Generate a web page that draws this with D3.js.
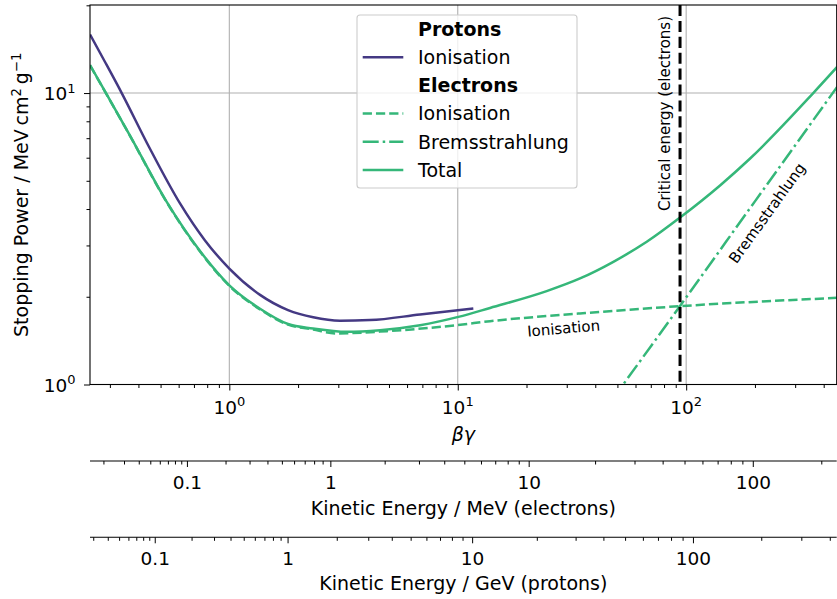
<!DOCTYPE html>
<html>
<head>
<meta charset="utf-8">
<script src="https://cdn.jsdelivr.net/npm/d3@7"></script>
<style>
  body { margin: 0; background: #fff; }
  svg { display: block; font-family: "DejaVu Sans", sans-serif; }
</style>
</head>
<body>
<div id="chart"></div>
<script>
// values: x is beta*gamma, y is stopping power (MeV cm^2 / g)
var protonIonBG  = [0.2455, 0.2857, 0.338, 0.4452, 0.6083, 0.7825, 1.0, 1.363, 1.807, 2.33, 3.05, 4.13, 6.84, 11.7];
var protonIonVal = [15.88, 12.78, 10.0, 6.53, 4.18, 3.12, 2.50, 2.03, 1.80, 1.70, 1.655, 1.663, 1.739, 1.824];

var elecIonBG  = [0.2455, 0.2885, 0.3674, 0.532, 0.7441, 1.0, 1.363, 1.807, 2.325, 2.953, 4.89, 9.90, 13.85, 34.3, 94, 458];
var elecIonVal = [12.45, 9.98, 7.13, 4.22, 2.86, 2.18, 1.81, 1.605, 1.545, 1.497, 1.524, 1.598, 1.649, 1.753, 1.857, 1.983];

var elecBremBG  = [10, 30, 53, 94, 200, 458];
var elecBremVal = [0.162, 0.537, 1.0, 1.86, 4.25, 10.5];

var elecTotBG  = [0.2455, 0.2885, 0.3674, 0.532, 0.7441, 1.0, 1.363, 1.807, 2.325, 3.27, 4.57, 6.84, 10.06, 13.85, 24.5, 34.3, 48, 67.2, 94, 140.7, 190, 360, 458];
var elecTotVal = [12.48, 10.0, 7.15, 4.23, 2.87, 2.19, 1.82, 1.613, 1.557, 1.516, 1.536, 1.598, 1.706, 1.831, 2.091, 2.311, 2.636, 3.088, 3.74, 4.82, 5.95, 10.0, 12.29];

var criticalBG = 94;   // critical energy for electrons, in beta*gamma

var xMajor = [1, 10, 100];
var xMajorLabels = ["0", "1", "2"];
var yMajor = [1, 10];
var yMajorLabels = ["0", "1"];
var elecTicks = [0.1, 1, 10, 100];        // MeV
var elecTickLabels = ["0.1", "1", "10", "100"];
var protTicks = [0.1, 1, 10, 100];        // GeV
var protTickLabels = ["0.1", "1", "10", "100"];

var legendRows = [
  {label: "Protons", header: true},
  {label: "Ionisation", color: "#443983", dash: null},
  {label: "Electrons", header: true},
  {label: "Ionisation", color: "#35b779", dash: "9.25,4"},
  {label: "Bremsstrahlung", color: "#35b779", dash: "16,4,2.5,4"},
  {label: "Total", color: "#35b779", dash: null}
];

var massE = 0.511;   // MeV
var massP = 0.938;   // GeV

var width = 837, height = 599;
var margin = {left: 90, right: 836.7, top: 5, bottom: 384.5};
var purple = "#443983", green = "#35b779";
var fs = 19, tickFs = 18.5;

var svg = d3.select("#chart").append("svg")
  .attr("width", width).attr("height", height);

var x = d3.scaleLog().domain([0.2455, 456]).range([margin.left, margin.right]);
var y = d3.scaleLog().domain([1, 20.05]).range([margin.bottom, margin.top]);

svg.append("clipPath").attr("id", "clip")
  .append("rect")
  .attr("x", margin.left).attr("y", margin.top)
  .attr("width", margin.right - margin.left).attr("height", margin.bottom - margin.top);

// grid
svg.append("g").selectAll("line").data(xMajor).enter().append("line")
  .attr("x1", function(d){ return x(d); }).attr("x2", function(d){ return x(d); })
  .attr("y1", margin.top).attr("y2", margin.bottom)
  .attr("stroke", "#b0b0b0").attr("stroke-width", 1.1);
svg.append("g").selectAll("line").data(yMajor).enter().append("line")
  .attr("y1", function(d){ return y(d); }).attr("y2", function(d){ return y(d); })
  .attr("x1", margin.left).attr("x2", margin.right)
  .attr("stroke", "#b0b0b0").attr("stroke-width", 1.1);

// minor tick values
function minorTicks(lo, hi) {
  var out = [];
  for (var p = -3; p <= 3; p++) {
    for (var k = 2; k <= 9; k++) {
      var v = k * Math.pow(10, p);
      if (v >= lo && v <= hi) out.push(v);
    }
  }
  return out;
}

// main x axis
svg.append("g")
  .attr("transform", "translate(0," + margin.bottom + ")")
  .call(d3.axisBottom(x).tickValues(minorTicks(0.2455, 456)).tickSize(3.5).tickFormat(""))
  .call(function(g){ g.select(".domain").remove(); });
svg.append("g")
  .attr("transform", "translate(0," + margin.bottom + ")")
  .call(d3.axisBottom(x).tickValues(xMajor).tickSize(6).tickFormat(""))
  .call(function(g){ g.select(".domain").remove(); });

// main y axis
svg.append("g")
  .attr("transform", "translate(" + margin.left + ",0)")
  .call(d3.axisLeft(y).tickValues(minorTicks(1, 20.05)).tickSize(3.5).tickFormat(""))
  .call(function(g){ g.select(".domain").remove(); });
svg.append("g")
  .attr("transform", "translate(" + margin.left + ",0)")
  .call(d3.axisLeft(y).tickValues(yMajor).tickSize(6).tickFormat(""))
  .call(function(g){ g.select(".domain").remove(); });

svg.selectAll(".tick line").attr("stroke", "#000").attr("stroke-width", 1);

// power-of-ten labels
function powLabel(sel, exp) {
  sel.append("tspan").text("10");
  sel.append("tspan").attr("dy", -7.5).attr("font-size", 13).text(exp);
}
xMajor.forEach(function(v, i) {
  var t = svg.append("text").attr("x", x(v)).attr("y", 413.5)
    .attr("text-anchor", "middle").attr("font-size", tickFs);
  powLabel(t, xMajorLabels[i]);
});
yMajor.forEach(function(v, i) {
  var t = svg.append("text").attr("x", 75.5).attr("y", y(v) + 7)
    .attr("text-anchor", "end").attr("font-size", tickFs);
  powLabel(t, yMajorLabels[i]);
});

svg.append("text").attr("x", (margin.left + margin.right) / 2).attr("y", 441)
  .attr("text-anchor", "middle").attr("font-size", fs).attr("font-style", "italic")
  .text("\u03b2\u03b3");

// y label
var yl = svg.append("text")
  .attr("transform", "translate(28," + (margin.top + margin.bottom) / 2 + ") rotate(-90)")
  .attr("text-anchor", "middle").attr("font-size", fs);
yl.append("tspan").text("Stopping Power / MeV\u2009cm");
yl.append("tspan").attr("dy", -7.5).attr("font-size", 13.3).text("2");
yl.append("tspan").attr("dy", 7.5).text("\u2009g");
yl.append("tspan").attr("dy", -7.5).attr("font-size", 13.3).text("\u22121");

// curves
var lineGen = d3.line()
  .x(function(d){ return x(d[0]); })
  .y(function(d){ return y(d[1]); })
  .curve(d3.curveMonotoneX);
function pairs(a, b) { return a.map(function(v, i){ return [v, b[i]]; }); }

var curves = svg.append("g").attr("clip-path", "url(#clip)");
curves.append("path").datum(pairs(elecIonBG, elecIonVal))
  .attr("fill", "none").attr("stroke", green).attr("stroke-width", 2.5)
  .attr("stroke-dasharray", "9.25,4").attr("d", lineGen);
curves.append("path").datum(pairs(elecBremBG, elecBremVal))
  .attr("fill", "none").attr("stroke", green).attr("stroke-width", 2.5)
  .attr("stroke-dasharray", "16,4,2.5,4").attr("d", lineGen);
curves.append("path").datum(pairs(elecTotBG, elecTotVal))
  .attr("fill", "none").attr("stroke", green).attr("stroke-width", 2.5).attr("d", lineGen);
curves.append("path").datum(pairs(protonIonBG, protonIonVal))
  .attr("fill", "none").attr("stroke", purple).attr("stroke-width", 2.5).attr("d", lineGen);

// critical energy
svg.append("line")
  .attr("x1", x(criticalBG)).attr("x2", x(criticalBG))
  .attr("y1", margin.top).attr("y2", margin.bottom)
  .attr("stroke", "#000").attr("stroke-width", 3).attr("stroke-dasharray", "11.1,4.8");
svg.append("text")
  .attr("transform", "translate(" + (x(criticalBG) - 10) + ",113.5) rotate(-90)")
  .attr("text-anchor", "middle").attr("font-size", 15)
  .text("Critical energy (electrons)");

// inline curve labels
svg.append("text")
  .attr("transform", "translate(564,333.5) rotate(-5)")
  .attr("text-anchor", "middle").attr("font-size", 15).text("Ionisation");
svg.append("text")
  .attr("transform", "translate(767,213) rotate(-54.3)")
  .attr("text-anchor", "middle").attr("dy", "0.35em").attr("font-size", 15).text("Bremsstrahlung");

// frame
svg.append("rect")
  .attr("x", margin.left).attr("y", margin.top)
  .attr("width", margin.right - margin.left).attr("height", margin.bottom - margin.top)
  .attr("fill", "none").attr("stroke", "#000").attr("stroke-width", 1.1);

// legend
var leg = svg.append("g");
leg.append("rect").attr("x", 357).attr("y", 15).attr("width", 220).attr("height", 173)
  .attr("rx", 3).attr("fill", "#fff").attr("fill-opacity", 0.8)
  .attr("stroke", "#cccccc").attr("stroke-width", 1.1);
legendRows.forEach(function(r, i) {
  var cy = 29 + i * 28.2;
  if (!r.header) {
    leg.append("line").attr("x1", 362.7).attr("x2", 403.3).attr("y1", cy).attr("y2", cy)
      .attr("stroke", r.color).attr("stroke-width", 2.5)
      .attr("stroke-dasharray", r.dash);
  }
  leg.append("text").attr("x", 418).attr("y", cy).attr("dy", "0.36em")
    .attr("font-size", fs).attr("font-weight", r.header ? "bold" : "normal")
    .text(r.label);
});

// secondary kinetic energy axes
function secondaryAxis(yPos, mass, majors, labels, title, labelY, titleY) {
  var toX = function(T) {
    var g = T / mass + 1;
    return x(Math.sqrt(g * g - 1));
  };
  var bgLo = 0.2455, bgHi = 456;
  var tLo = mass * (Math.sqrt(1 + bgLo * bgLo) - 1);
  var tHi = mass * (Math.sqrt(1 + bgHi * bgHi) - 1);
  var ax = svg.append("g");
  ax.append("line").attr("x1", margin.left).attr("x2", margin.right)
    .attr("y1", yPos).attr("y2", yPos).attr("stroke", "#000").attr("stroke-width", 1.1);
  ax.selectAll(".minor").data(minorTicks(tLo, tHi)).enter().append("line")
    .attr("x1", toX).attr("x2", toX).attr("y1", yPos).attr("y2", yPos + 3.5)
    .attr("stroke", "#000").attr("stroke-width", 1);
  ax.selectAll(".major").data(majors).enter().append("line")
    .attr("x1", toX).attr("x2", toX).attr("y1", yPos).attr("y2", yPos + 6)
    .attr("stroke", "#000").attr("stroke-width", 1);
  ax.selectAll(".lab").data(majors).enter().append("text")
    .attr("x", toX).attr("y", labelY).attr("text-anchor", "middle").attr("font-size", tickFs)
    .text(function(d, i){ return labels[i]; });
  ax.append("text").attr("x", (margin.left + margin.right) / 2).attr("y", titleY)
    .attr("text-anchor", "middle").attr("font-size", fs).text(title);
}
secondaryAxis(461, massE, elecTicks, elecTickLabels, "Kinetic Energy / MeV (electrons)", 489, 515);
secondaryAxis(537.3, massP, protTicks, protTickLabels, "Kinetic Energy / GeV (protons)", 565, 590);
</script>
</body>
</html>
